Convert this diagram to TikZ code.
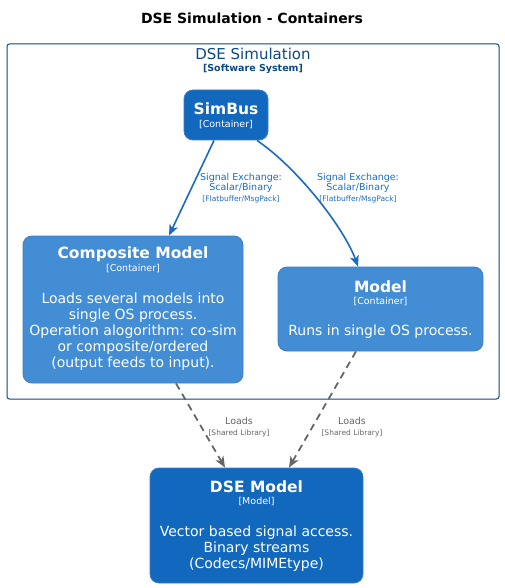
\documentclass[tikz,border=0pt]{standalone}
\usepackage{fontspec}
\setmainfont{DejaVu Sans}
\usetikzlibrary{arrows.meta,calc}
\definecolor{bnd}{HTML}{0B4884}
\definecolor{sysblue}{HTML}{1168BD}
\definecolor{contblue}{HTML}{438DD5}
\definecolor{edgeblue}{HTML}{3C7FC0}
\definecolor{relblue}{HTML}{1A6BC0}
\definecolor{relgray}{HTML}{666666}
\tikzset{
  darkbox/.style={draw=edgeblue, fill=sysblue, rounded corners=9pt, line width=0.8pt, inner sep=0pt},
  lightbox/.style={draw=edgeblue, fill=contblue, rounded corners=9pt, line width=0.8pt, inner sep=0pt},
  bname/.style={text=white, font=\fontsize{15.5}{18}\selectfont\bfseries, inner sep=0pt},
  bstereo/.style={text=white, font=\fontsize{9.5}{11}\selectfont, inner sep=0pt},
  bdesc/.style={text=white, font=\fontsize{14}{16}\selectfont, align=center, inner sep=0pt},
  rellabel/.style={text=relblue, align=center, inner sep=0pt, font=\fontsize{9.5}{10.5}\selectfont},
  graylabel/.style={text=relgray, align=center, inner sep=0pt, font=\fontsize{9.5}{10.5}\selectfont},
  bluerel/.style={draw=relblue, line width=1.6pt, -{Stealth[length=11pt,width=9pt,inset=3pt]}},
  grayrel/.style={draw=relgray, line width=1.8pt, dash pattern=on 7pt off 5pt, -{Stealth[length=11pt,width=9pt,inset=3pt]}},
}
\begin{document}
\begin{tikzpicture}[x=1pt,y=-1pt]
\useasboundingbox (0,0) rectangle (504,588);
\node[font=\fontsize{14}{16}\selectfont\bfseries, inner sep=0pt] (title) at (252,18) {DSE Simulation - Containers};
% boundary
\node[draw=bnd, line width=1pt, rounded corners=2.5pt, minimum width=492pt, minimum height=355pt, inner sep=0pt] (bound) at (253,221.5) {};
\node[text=bnd, font=\fontsize{15}{17}\selectfont, inner sep=0pt] (boundname) at (253,54) {DSE Simulation};
\node[text=bnd, font=\fontsize{9.5}{11}\selectfont\bfseries, inner sep=0pt] (boundst) at (253,69) {[Software System]};
% SimBus
\node[darkbox, minimum width=84pt, minimum height=50pt] (simbus) at (226,115) {};
\node[bname] (simbusname) at (226,109) {SimBus};
\node[bstereo] (simbusst) at (226,125) {[Container]};
% Composite Model
\node[lightbox, minimum width=220pt, minimum height=147pt] (comp) at (133,309.5) {};
\node[bname] (compname) at (133,254) {Composite Model};
\node[bstereo] (compst) at (133,269) {[Container]};
\node[bdesc] (compdesc) at (133,332) {Loads several models into\\single OS process.\\Operation alogorithm: co-sim\\or composite/ordered\\(output feeds to input).};
% Model
\node[lightbox, minimum width=205pt, minimum height=84pt] (model) at (380.5,309) {};
\node[bname] (modelname) at (380.5,287) {Model};
\node[bstereo] (modelst) at (380.5,302) {[Container]};
\node[bdesc] (modeldesc) at (380.5,332) {Runs in single OS process.};
% DSE Model
\node[darkbox, minimum width=213pt, minimum height=115pt] (dse) at (256.5,525.5) {};
\node[bname] (dsename) at (256.5,487) {DSE Model};
\node[bstereo] (dsest) at (256.5,502) {[Model]};
\node[bdesc] (dsedesc) at (256.5,549) {Vector based signal access.\\Binary streams\\(Codecs/MIMEtype)};
% relations
\draw[bluerel] ([xshift=-12pt]simbus.south) -- ([xshift=36pt]comp.north);
\draw[bluerel] ([xshift=31pt]simbus.south) .. controls (300,170) and (345,230) .. ([xshift=-22.5pt]model.north);
\node[rellabel] (l1) at (241,188) {Signal Exchange:\\Scalar/Binary\\{\fontsize{7.5}{9}\selectfont [Flatbuffer/MsgPack]}};
\node[rellabel] (l2) at (358,188) {Signal Exchange:\\Scalar/Binary\\{\fontsize{7.5}{9}\selectfont [Flatbuffer/MsgPack]}};
\draw[grayrel] ([xshift=43pt]comp.south) -- ([xshift=-31.5pt]dse.north);
\draw[grayrel] ([xshift=-24.5pt]model.south) -- ([xshift=32.5pt]dse.north);
\node[graylabel] (l3) at (239,427) {Loads\\{\fontsize{7.5}{9}\selectfont [Shared Library]}};
\node[graylabel] (l4) at (352,427) {Loads\\{\fontsize{7.5}{9}\selectfont [Shared Library]}};
\end{tikzpicture}
\end{document}
